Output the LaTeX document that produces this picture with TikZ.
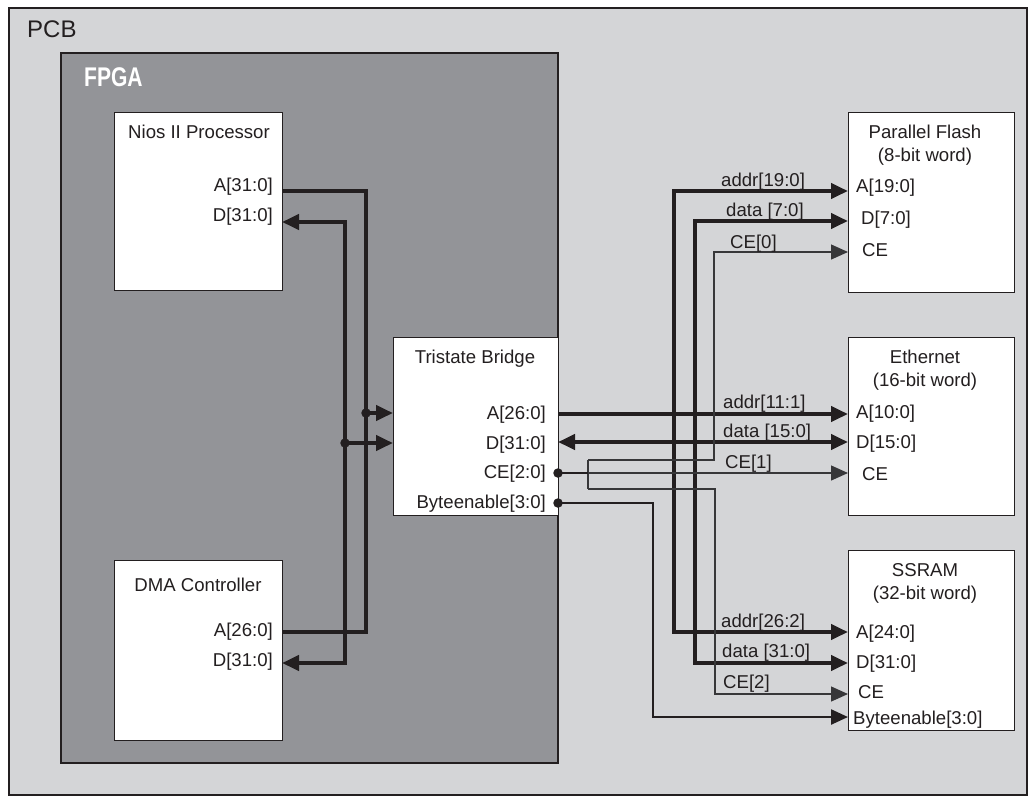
\documentclass[tikz,border=0pt]{standalone}
\usepackage{fontspec}
\setmainfont{Liberation Sans}
\usetikzlibrary{arrows.meta}
\definecolor{pcbgray}{RGB}{212,213,215}
\definecolor{fpgagray}{RGB}{147,148,152}
\definecolor{ink}{RGB}{35,31,32}
\definecolor{thinink}{RGB}{55,55,57}
\begin{document}
\begin{tikzpicture}[x=1pt,y=-1pt,
  blk/.style={draw=ink, line width=1.3pt, fill=white, anchor=north west, inner sep=0},
  lbl/.style={font=\fontsize{18.6}{21}\selectfont, inner sep=0, text height=13.3pt, text depth=0pt, text=ink},
  bus/.style={draw=ink, line width=4pt},
  wire/.style={draw=thinink, line width=1.3pt},
  midw/.style={draw=ink, line width=2.4pt},
  tip/.style={-{Triangle[length=17pt,width=15pt]}},
  tips/.style={{Triangle[length=17pt,width=15pt]}-{Triangle[length=17pt,width=15pt]}},
  dotn/.style={circle, fill=ink, inner sep=0, minimum size=9.5pt}
]
\useasboundingbox (0,0) rectangle (1036,804);
% PCB and FPGA
\draw[fill=pcbgray, draw=ink, line width=1.2pt] (9,8) rectangle (1027,795);
\node[anchor=west, inner sep=0, font=\fontsize{24}{27}\selectfont, text=ink] (pcb) at (27,29) {PCB};
\draw[fill=fpgagray, draw=ink, line width=1.2pt] (61,53) rectangle (558,763);
\node[anchor=west, inner sep=0, font=\bfseries\fontsize{27}{29}\selectfont, text=white] (fpga) at (84,77) {\scalebox{0.78}[1]{FPGA}};

% blocks
\node[blk, minimum width=168pt, minimum height=178pt] (nios) at (114,112) {};
\node[blk, minimum width=168pt, minimum height=180pt] (dma) at (114,560) {};
\node[blk, minimum width=165pt, minimum height=178pt] (bridge) at (393,337) {};
\node[blk, minimum width=166pt, minimum height=180pt] (flash) at (848,112) {};
\node[blk, minimum width=166pt, minimum height=178pt] (eth) at (848,337) {};
\node[blk, minimum width=166pt, minimum height=180pt] (ssram) at (848,550) {};

% block texts
\node[lbl] (niosT) at (199,132) {Nios II Processor};
\node[lbl, anchor=east] (niosAL) at (273,185) {A[31:0]};
\node[lbl, anchor=east] (niosDL) at (273,215) {D[31:0]};
\node[lbl] (dmaT) at (198,585) {DMA Controller};
\node[lbl, anchor=east] (dmaAL) at (273,630) {A[26:0]};
\node[lbl, anchor=east] (dmaDL) at (273,660) {D[31:0]};
\node[lbl] (brT) at (475,357) {Tristate Bridge};
\node[lbl, anchor=east] (brAL) at (546,413) {A[26:0]};
\node[lbl, anchor=east] (brDL) at (546,443) {D[31:0]};
\node[lbl, anchor=east] (brCL) at (546,472) {CE[2:0]};
\node[lbl, anchor=east] (brBL) at (546,502) {Byteenable[3:0]};
\node[lbl] (flT1) at (925,132) {Parallel Flash};
\node[lbl] (flT2) at (925,155) {(8-bit word)};
\node[lbl, anchor=west] (flAL) at (856,186) {A[19:0]};
\node[lbl, anchor=west] (flDL) at (861,218) {D[7:0]};
\node[lbl, anchor=west] (flCL) at (862,250) {CE};
\node[lbl] (etT1) at (925,357) {Ethernet};
\node[lbl] (etT2) at (925,380) {(16-bit word)};
\node[lbl, anchor=west] (etAL) at (856,412) {A[10:0]};
\node[lbl, anchor=west] (etDL) at (856,442) {D[15:0]};
\node[lbl, anchor=west] (etCL) at (862,474) {CE};
\node[lbl] (ssT1) at (925,570) {SSRAM};
\node[lbl] (ssT2) at (925,593) {(32-bit word)};
\node[lbl, anchor=west] (ssAL) at (856,632) {A[24:0]};
\node[lbl, anchor=west] (ssDL) at (856,662) {D[31:0]};
\node[lbl, anchor=west] (ssCL) at (858,692) {CE};
\node[lbl, anchor=west] (ssBL) at (853,718) {Byteenable[3:0]};

% port coordinates
\coordinate (niosA) at (282,191);
\coordinate (niosD) at (282,222);
\coordinate (dmaA) at (282,632);
\coordinate (dmaD) at (282,663);
\coordinate (jA) at (366,413);
\coordinate (jD) at (345,443);
\coordinate (brAin) at (393,413);
\coordinate (brDin) at (393,443);
\coordinate (brA) at (558,414);
\coordinate (brD) at (558,442);
\coordinate (brC) at (558,473);
\coordinate (brB) at (558,503);
\coordinate (flA) at (848,191);
\coordinate (flD) at (848,221);
\coordinate (flC) at (848,252);
\coordinate (etA) at (848,414);
\coordinate (etD) at (848,442);
\coordinate (etC) at (848,473);
\coordinate (ssA) at (848,632);
\coordinate (ssD) at (848,663);
\coordinate (ssC) at (848,694);
\coordinate (ssB) at (848,717);
\coordinate (ceS) at (588,473);
\coordinate (ceU) at (588,460);
\coordinate (ceL) at (588,489);

% left buses
\draw[bus] (niosA) -| (366,632) -- (dmaA);
\draw[bus, tips] (niosD) -| (345,663) -- (dmaD);
\draw[bus, tip] (jA) -- (brAin);
\draw[bus, tip] (jD) -- (brDin);
\node[dotn] (dA) at (jA) {};
\node[dotn] (dD) at (jD) {};

% right buses
\draw[bus, tips] (flA) -| (674,632) -- (ssA);
\draw[bus, tips] (flD) -| (695,663) -- (ssD);
\draw[bus, tip] (brA) -- (etA);
\draw[bus, tips] (brD) -- (etD);

% chip enables
\draw[wire, tip] (ceS) -- (etC);
\draw[wire] (ceU) -- (ceL);
\draw[wire, tip] (ceU) -- (714,460) -- (714,252) -- (flC);
\draw[wire, tip] (ceL) -- (715,489) -- (715,694) -- (ssC);
\draw[midw] (brC) -- (ceS);
\draw[midw, tip] (brB) -| (653,717) -- (ssB);
\node[dotn] (dC) at (brC) {};
\node[dotn] (dB) at (brB) {};

% bus labels
\node[lbl, anchor=west] (l1) at (721,180) {addr[19:0]};
\node[lbl, anchor=west] (l2) at (726,210) {data [7:0]};
\node[lbl, anchor=west] (l3) at (730,242) {CE[0]};
\node[lbl, anchor=west] (l4) at (723,402) {addr[11:1]};
\node[lbl, anchor=west] (l5) at (723,431) {data [15:0]};
\node[lbl, anchor=west] (l6) at (725,462) {CE[1]};
\node[lbl, anchor=west] (l7) at (721,621) {addr[26:2]};
\node[lbl, anchor=west] (l8) at (722,651) {data [31:0]};
\node[lbl, anchor=west] (l9) at (723,682) {CE[2]};
\end{tikzpicture}
\end{document}
